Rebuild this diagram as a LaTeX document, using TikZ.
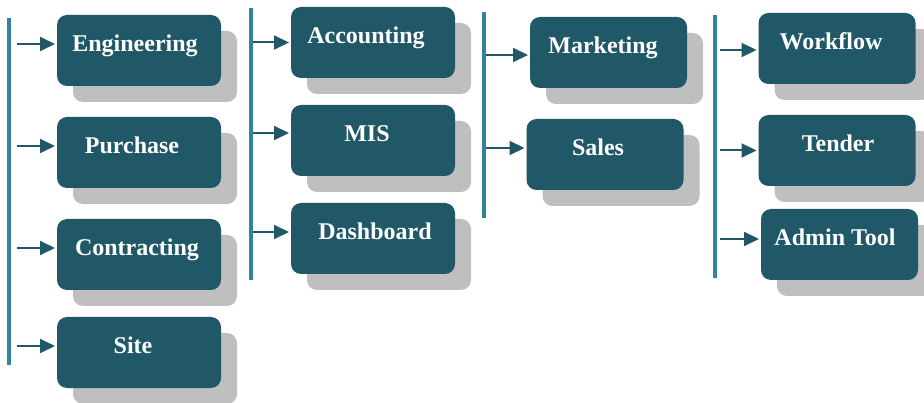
\documentclass[tikz,border=0pt]{standalone}
\usepackage{fontspec}
\setmainfont{Liberation Serif}
\usetikzlibrary{
positioning,
arrows.meta,
shadows,
}
\definecolor{boxteal}{HTML}{215868}
\definecolor{barteal}{HTML}{31849B}
\definecolor{shadegray}{HTML}{BFBFBF}
\def\nudgeamt{-10pt}
\tikzset{
x=1pt, y=-1pt,
outer sep=0pt,
nudge/.code={\def\nudgeamt{#1}},
dept/.style={rectangle, rounded corners=10pt, fill=boxteal, text=white,
  font=\fontsize{24}{26}\selectfont\bfseries, minimum width=164pt,
  inner ysep=16pt, text height=21pt, text depth=18pt,
  execute at begin node=\hspace*{\nudgeamt},
  drop shadow={shadow xshift=16pt, shadow yshift=-16pt, fill=shadegray, opacity=1}},
narrow/.style={minimum width=157pt},
bar/.style={draw=barteal, line width=4pt},
feed/.style={draw=boxteal, line width=2pt, -{Triangle[length=15pt,width=14pt]}, shorten >=2pt},
}

\begin{document}
\begin{tikzpicture}
    \useasboundingbox (0,0) rectangle (924,403);

    % first column
    \node [dept, nudge=-8pt] (eng) at (139,50.5) {Engineering};
    \node [dept, nudge=-14pt, below=31pt of eng] (pur) {Purchase};
    \node [dept, nudge=-4pt, below=31pt of pur] (con) {Contracting};
    \node [dept, nudge=-12pt, below=27pt of con] (site) {Site};

    % second column
    \node [dept, nudge=-14pt] (acc) at (373,42.5) {Accounting};
    \node [dept, nudge=-12pt, below=27pt of acc] (mis) {MIS};
    \node [dept, nudge=4pt, below=27pt of mis] (dash) {Dashboard};

    % third column
    \node [dept, narrow, nudge=-11pt] (mkt) at (608.5,52.5) {Marketing};
    \node [dept, narrow, nudge=-14pt, below=31pt of mkt, xshift=-3.5pt] (sal) {Sales};

    % fourth column
    \node [dept, narrow, nudge=-12pt] (wf) at (837,48.5) {Workflow};
    \node [dept, narrow, nudge=2pt, below=31pt of wf] (ten) {Tender};
    \node [dept, narrow, nudge=-9pt, below=23pt of ten, xshift=2.5pt] (adm) {Admin Tool};

    \draw [bar] (9,18) -- (9,365);
    \draw [bar] (251,8) -- (251,280);
    \draw [bar] (484,12) -- (484,218);
    \draw [bar] (715,15) -- (715,278);

    \coordinate (a1) at (17,0);
    \coordinate (a2) at (253,0);
    \coordinate (a3) at (486,0);
    \coordinate (a4) at (720,0);

    \foreach \n/\d/\a in {eng/6.5/a1, pur/6.5/a1, con/6.5/a1, site/6.5/a1,
                          acc/0/a2, mis/7.5/a2, dash/6.5/a2,
                          mkt/-2.5/a3, sal/6.5/a3,
                          wf/-1.5/a4, ten/0/a4, adm/5.5/a4} {
        \path ([yshift=\d pt]\n.west) coordinate (t);
        \draw [feed] (t -| \a) -- (t);
    }
\end{tikzpicture}
\end{document}
